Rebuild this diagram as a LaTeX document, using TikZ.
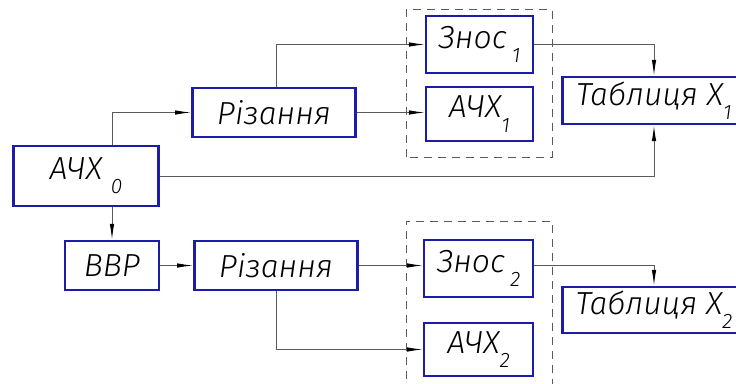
\documentclass[tikz,border=0pt]{standalone}
\usepackage{fontspec}
\setmainfont{Fira Sans}[UprightFont=* Light, ItalicFont=* Light Italic]
\usetikzlibrary{arrows.meta}
\definecolor{blok}{HTML}{1C1CA8}
\definecolor{lin}{HTML}{5A5A5A}
\newcommand{\low}[1]{\raisebox{-0.45em}{\fontsize{21}{23}\selectfont #1}}
\begin{document}
\begin{tikzpicture}[x=1bp,y=1bp,
    blok/.style={draw=blok, line width=2.5bp, inner sep=0pt, font=\fontsize{32}{36}\selectfont\itshape},
    lin/.style={draw=lin, line width=1bp, -{Latex[length=16bp,width=4.5bp,color=black]}},
    ramka/.style={draw=lin, line width=1bp, dash pattern=on 8bp off 6bp}]
    \clip (0,0) rectangle (736,383);
    \draw[ramka] (406,226) rectangle (552,373);
    \draw[ramka] (406,-10) -- (406,162) -- (552,162) -- (552,-10);
    \node[blok, minimum width=146, minimum height=60] (a0) at (86,207) {АЧХ\ \low{0}};
    \node[blok, minimum width=164, minimum height=49] (cut1) at (274,270.5) {Різання};
    \node[blok, minimum width=107, minimum height=57] (wear1) at (479.5,338.5) {Знос\,\low{1}};
    \node[blok, minimum width=107, minimum height=54] (afc1) at (479.5,269) {АЧХ\low{1}};
    \node[blok, minimum width=184, minimum height=47] (tab1) at (654,282.5) {Таблиця X\low{1}};
    \node[blok, minimum width=94, minimum height=49] (vvr) at (112,117.5) {ВВР};
    \node[blok, minimum width=164, minimum height=49] (cut2) at (276,117.5) {Різання};
    \node[blok, minimum width=109, minimum height=57] (wear2) at (478.5,114.5) {Знос\,\low{2}};
    \node[blok, minimum width=109, minimum height=53] (afc2) at (478.5,33.5) {АЧХ\low{2}};
    \node[blok, minimum width=184, minimum height=46] (tab2) at (654,73) {Таблиця X\low{2}};
    \draw[lin] (vvr.north |- a0.north) |- (cut1.west);
    \draw[lin] ([xshift=3]cut1.north) |- (wear1.west);
    \draw[lin] (cut1.east) -- (cut1.east -| afc1.west);
    \draw[lin] (wear1.east) -| (tab1.north);
    \draw[lin] (a0.east) -| (tab1.south);
    \draw[lin] (a0.south -| vvr.north) -- (vvr.north);
    \draw[lin] (vvr.east) -- (cut2.west);
    \draw[lin] (cut2.east) -- (cut2.east -| wear2.west);
    \draw[lin] (cut2.south) |- (afc2.west);
    \draw[lin] ([yshift=3]wear2.east) -| (tab2.north);
\end{tikzpicture}
\end{document}
